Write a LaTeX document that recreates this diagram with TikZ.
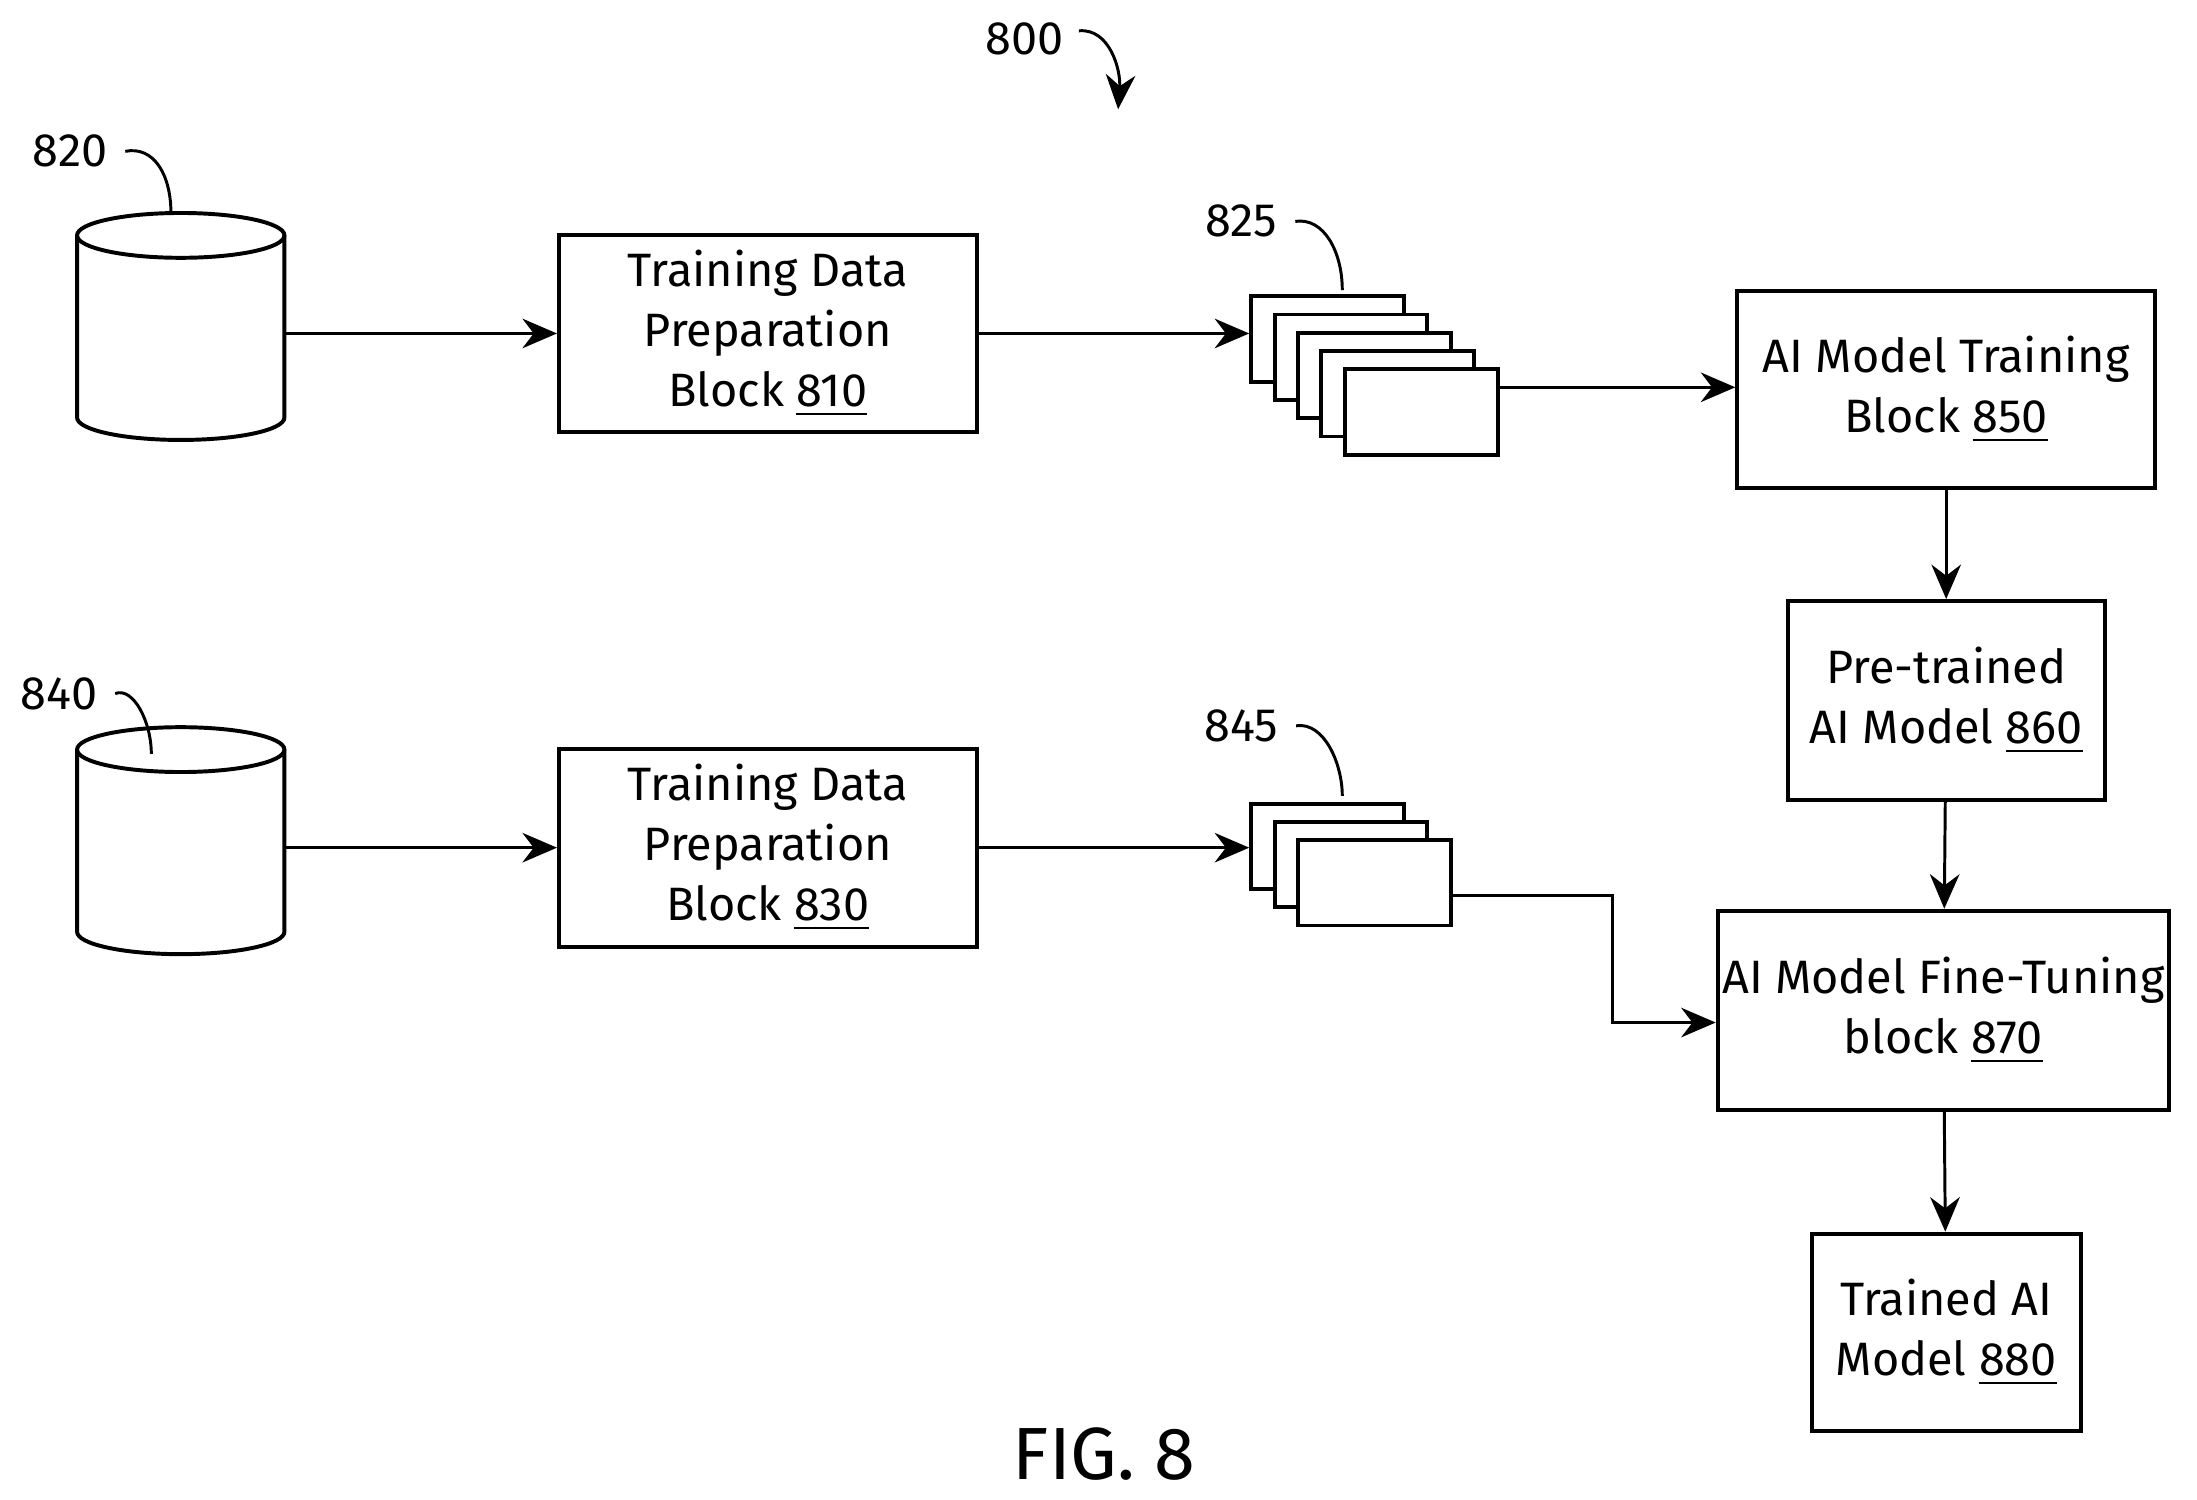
\documentclass[tikz,border=0pt]{standalone}
\usepackage{fontspec}
\setmainfont{Fira Sans}
\usetikzlibrary{arrows.meta}
\tikzstyle{block}=[rectangle, draw, thick, align=center, font=\fontsize{9.5}{12.2}\selectfont, inner sep=0pt]
\tikzstyle{sheet}=[rectangle, draw, thick, fill=white, minimum width=1.09cm, minimum height=0.61cm, inner sep=0pt]
\tikzstyle{ref}=[font=\fontsize{9.5}{12}\selectfont]
\tikzstyle{flow}=[-{Stealth[length=7pt,width=6pt]}, semithick]
\newcommand{\drum}[1]{%
  \draw[thick, fill=white] (#1) ++(-74,0) -- ++(0,130) arc[start angle=180, end angle=360, x radius=74, y radius=-16] -- ++(0,-130);
  \draw[thick] (#1) ellipse[x radius=74, y radius=16];}
\begin{document}
\begin{tikzpicture}[x=0.01cm, y=-0.01cm, semithick]
\useasboundingbox (0,0) rectangle (1568,1070);
\node[ref] (n800) at (731,28) {800};
\draw[flow] (770,22) .. controls (792,20) and (800,50) .. (798,78);
% upper path
\coordinate (db1) at (129,168);
\drum{db1}
\node[ref] (n820) at (50,108) {820};
\draw (n820.east) .. controls (110,104) and (122,125) .. (122,152);
\node[block, minimum width=2.98cm, minimum height=1.41cm] (b810) at (548,238) {Training Data\\Preparation\\Block \underline{810}};
\foreach \i in {1,...,5}
  \node[sheet] (s\i) at ({947.5+16.7*(\i-1)},{242+13*(\i-1)}) {};
\node[ref] (n825) at (886,158) {825};
\draw (n825.east) .. controls (945,155) and (958,180) .. (958,207);
\node[block, minimum width=2.98cm, minimum height=1.41cm] (b850) at (1389,278) {AI Model Training\\Block \underline{850}};
\node[block, minimum width=2.26cm, minimum height=1.42cm] (b860) at (1389,500) {Pre-trained\\AI Model \underline{860}};
\node[block, minimum width=3.22cm, minimum height=1.42cm] (b870) at (1387,721) {AI Model Fine-Tuning\\block \underline{870}};
\node[block, minimum width=1.92cm, minimum height=1.41cm] (b880) at (1389,951) {Trained AI\\Model \underline{880}};
\draw[flow] (203,238) -- (b810.west);
\draw[flow] (b810.east) -- (b810.east -| s1.west);
\draw[flow] ([yshift=5pt]s5.east) -- ([yshift=5pt]s5.east -| b850.west);
\draw[flow] (b850) -- (b860);
\draw[flow] (b860) -- (b870);
\draw[flow] (b870) -- (b880);
% lower path
\coordinate (db2) at (129,535);
\drum{db2}
\node[ref] (n840) at (42,495) {840};
\draw (n840.east) .. controls (95,490) and (108,515) .. (108,538);
\node[block, minimum width=2.98cm, minimum height=1.41cm] (b830) at (548,605) {Training Data\\Preparation\\Block \underline{830}};
\foreach \i in {1,...,3}
  \node[sheet] (t\i) at ({947.5+16.7*(\i-1)},{604+13*(\i-1)}) {};
\node[ref] (n845) at (886,518) {845};
\draw (n845.east) .. controls (945,515) and (958,545) .. (958,568);
\draw[flow] (203,605) -- (b830.west);
\draw[flow] (b830.east) -- (b830.east -| t1.west);
\draw[flow] ([yshift=-2.5pt]t3.east) -- ++(114,0) |- ([yshift=-2.5pt]b870.west);
\node[font=\fontsize{15}{18}\selectfont] (fig) at (788,1038) {FIG. 8};
\end{tikzpicture}
\end{document}
